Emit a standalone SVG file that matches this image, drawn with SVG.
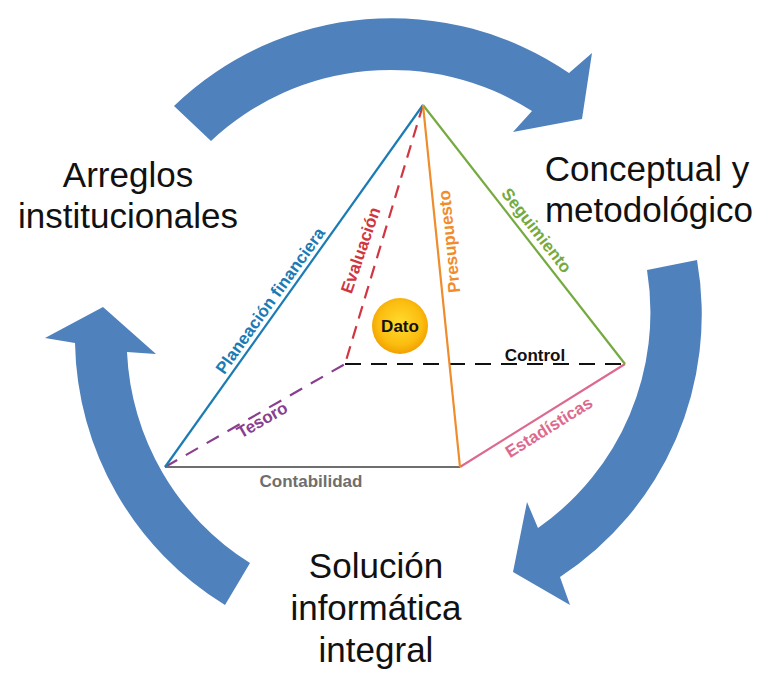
<svg xmlns="http://www.w3.org/2000/svg" width="769" height="679" viewBox="0 0 769 679">
<style>
.big{font-family:"Liberation Sans",Arial,sans-serif;font-size:35px;fill:#111;text-anchor:middle}
.lbl{font-family:"Liberation Sans",Arial,sans-serif;font-size:17px;font-weight:bold;text-anchor:middle}
.arrow{fill:#4f81bd}
.edge{fill:none;stroke-width:2.2}
</style>
<defs>
<radialGradient id="gold" cx="0.5" cy="0.45" r="0.55">
<stop offset="0" stop-color="#ffdc2e"/>
<stop offset="0.7" stop-color="#fbbd10"/>
<stop offset="1" stop-color="#f2a000"/>
</radialGradient>
</defs>
<rect width="769" height="679" fill="#fff"/>
<g id="connectors">
<path class="arrow" d="M174,106 A314,314 0 0 1 569,73 L592,53 L582,119 L513,132 L532,111 A263,263 0 0 0 211,141 Z"/>
<path class="arrow" d="M697,260 A314,314 0 0 1 560,577 L570,605 L513,572 L527,502 L538,528 A263,263 0 0 0 647,270 Z"/>
<path class="arrow" d="M225,605 A314,314 0 0 1 75,343 L45,338 L103,307 L156,354 L127,352 A263,263 0 0 0 250,563 Z"/>
</g>
<g id="arreglos">
<text class="big" x="128" y="187">Arreglos</text>
<text class="big" x="128" y="228">institucionales</text>
</g>
<g id="conceptual">
<text class="big" x="647" y="181">Conceptual y</text>
<text class="big" x="649" y="222">metodológico</text>
</g>
<g id="solucion">
<text class="big" x="376" y="578">Solución</text>
<text class="big" x="376" y="620">informática</text>
<text class="big" x="376" y="662">integral</text>
</g>
<g id="pyramid">
<line class="edge" x1="345" y1="364" x2="625" y2="364" stroke="#111" stroke-dasharray="16,10"/>
<line class="edge" x1="165" y1="467" x2="345" y2="364" stroke="#8a3f8e" stroke-dasharray="14,10"/>
<line class="edge" x1="423" y1="105" x2="345" y2="364" stroke="#d03641" stroke-dasharray="13,8"/>
<line class="edge" x1="165" y1="467" x2="460" y2="467" stroke="#6e6e6e"/>
<line class="edge" x1="460" y1="467" x2="625" y2="364" stroke="#dd6a8e"/>
<line class="edge" x1="423" y1="105" x2="165" y2="467" stroke="#1b7bb4"/>
<line class="edge" x1="423" y1="105" x2="625" y2="364" stroke="#74aa3f"/>
<line class="edge" x1="423" y1="105" x2="460" y2="467" stroke="#ef8c2b"/>
<text class="lbl" fill="#1b7bb4" transform="translate(275,304) rotate(-54.5)">Planeación financiera</text>
<text class="lbl" fill="#d03641" transform="translate(366,252) rotate(-71)">Evaluación</text>
<text class="lbl" fill="#ef8c2b" transform="translate(455,241) rotate(-95.8)">Presupuesto</text>
<text class="lbl" fill="#74aa3f" transform="translate(532,234) rotate(52)">Seguimiento</text>
<text class="lbl" fill="#111" x="535" y="361">Control</text>
<text class="lbl" fill="#8a3f8e" transform="translate(265,425) rotate(-29.8)">Tesoro</text>
<text class="lbl" fill="#6e6e6e" x="311" y="487">Contabilidad</text>
<text class="lbl" fill="#dd6a8e" transform="translate(552,432) rotate(-32)">Estadísticas</text>
</g>
<g id="dato">
<circle cx="400" cy="326" r="28" fill="url(#gold)"/>
<text class="lbl" fill="#111" x="400" y="332">Dato</text>
</g>
</svg>
